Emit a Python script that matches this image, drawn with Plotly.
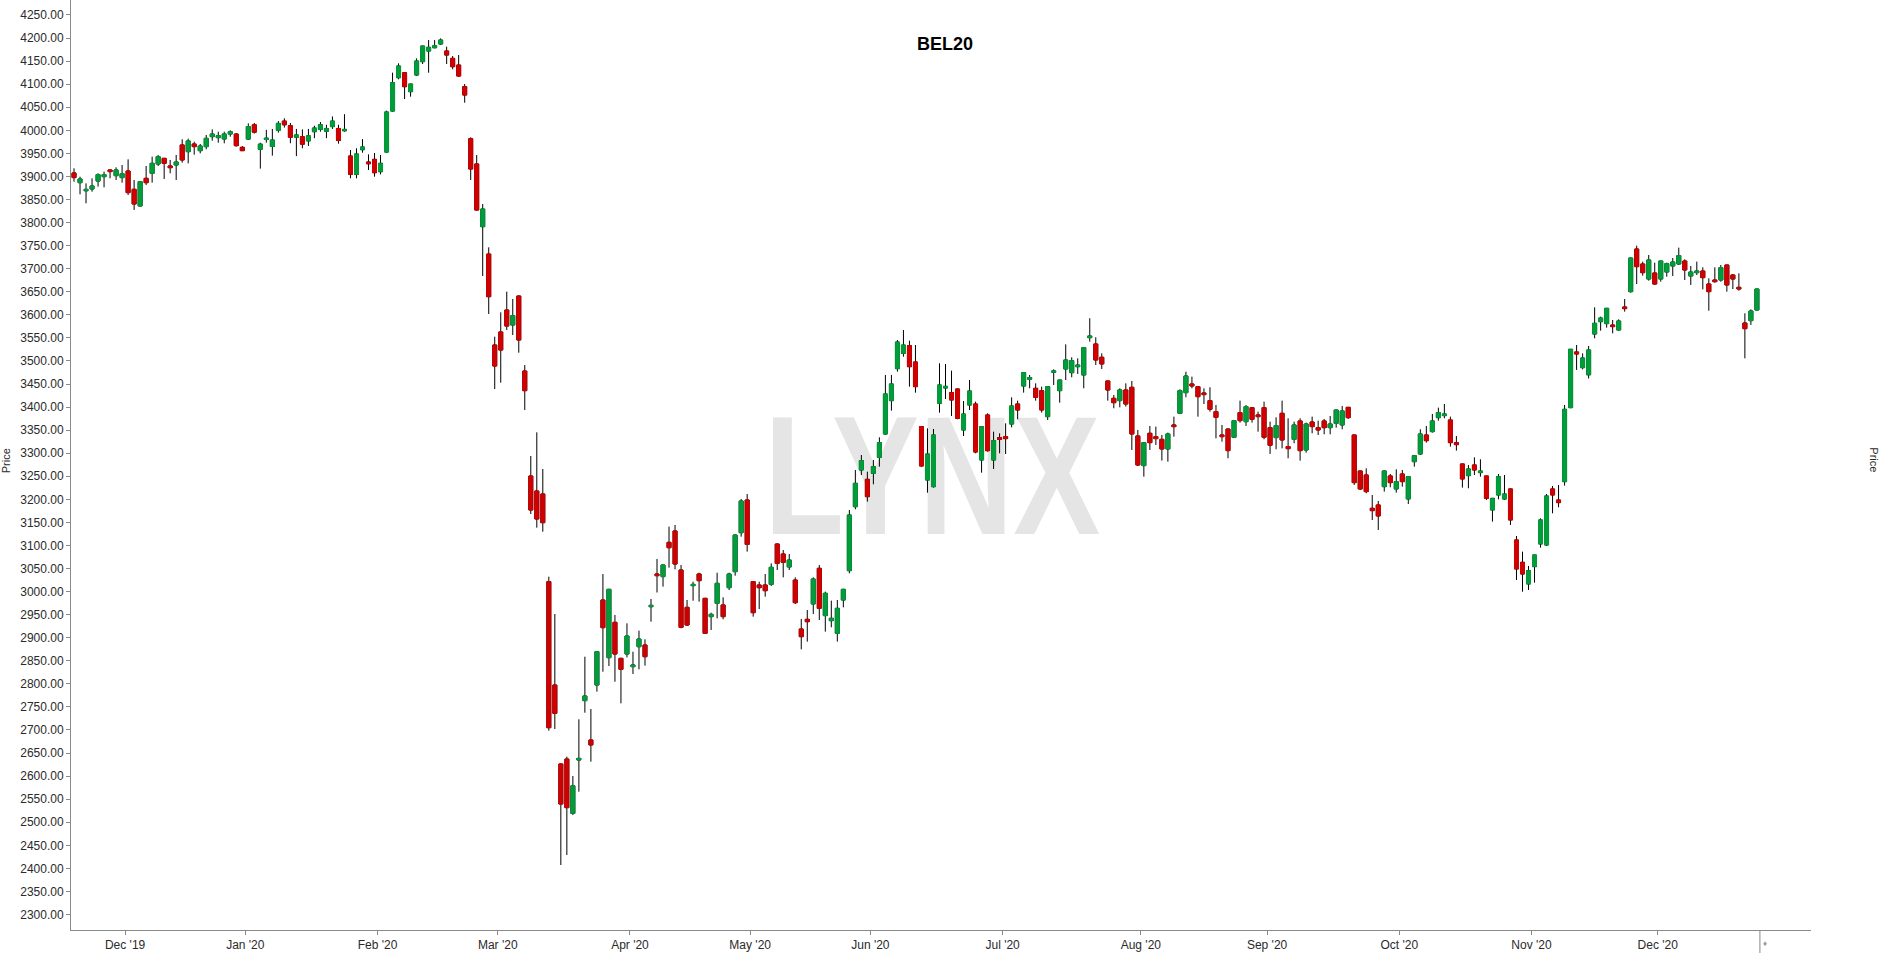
import pandas as pd
import plotly.graph_objects as go

# ---- data: BEL20 daily candles, 19 Nov 2019 .. 23 Dec 2020 (Euronext Brussels sessions) ----
holidays = ["2019-12-25", "2019-12-26", "2020-01-01", "2020-04-10", "2020-04-13", "2020-05-01"]
dates = [d for d in pd.bdate_range("2019-11-19", "2020-12-23") if d.strftime("%Y-%m-%d") not in holidays]

open_ = [3907.5, 3886.5, 3869.0, 3872.8, 3890.0, 3899.5, 3914.0, 3901.7, 3897.4, 3911.8,
         3872.1, 3836.0, 3895.9, 3906.8, 3927.0, 3939.3, 3922.7, 3924.8, 3968.2, 3953.7,
         3970.3, 3955.9, 3964.6, 3986.2, 3984.1, 3981.2, 3992.0, 3992.0, 3963.1, 3981.0,
         4012.0, 3959.0, 3980.0, 3965.0, 4000.0, 4020.0, 4010.0, 3985.0, 3986.0, 3977.0,
         3997.0, 4002.0, 3998.0, 4008.0, 4004.0, 3999.0, 3944.3, 3904.6, 3958.0, 3931.3,
         3937.0, 3910.3, 3952.9, 4041.8, 4114.1, 4124.9, 4083.8, 4119.9, 4148.8, 4171.9,
         4179.0, 4187.1, 4171.9, 4156.0, 4141.5, 4094.6, 3981.8, 3927.0, 3791.1, 3731.8,
         3534.6, 3562.8, 3610.4, 3577.9, 3640.8, 3478.2, 3250.6, 3218.1, 3211.6, 3021.5,
         2797.5, 2626.3, 2637.1, 2519.3, 2634.9, 2763.6, 2678.3, 2797.5, 2981.8, 2856.8,
         2933.4, 2855.3, 2864.7, 2837.3, 2880.6, 2884.2, 2967.3, 3038.1, 3032.4, 3106.8,
         3131.4, 3046.8, 2965.9, 3012.9, 3038.1, 2985.4, 2945.7, 2974.6, 2971.0, 3008.5,
         3043.2, 3127.7, 3198.6, 3021.5, 3014.3, 3014.3, 3015.7, 3103.2, 3081.5, 3053.4,
         3025.1, 2918.9, 2939.9, 2973.2, 3050.5, 2947.9, 2937.0, 2909.6, 2981.8, 3045.4,
         3184.1, 3263.6, 3243.4, 3256.4, 3291.0, 3341.7, 3414.0, 3483.3, 3516.5, 3533.2,
         3497.8, 3357.6, 3241.9, 3227.5, 3408.2, 3441.4, 3431.3, 3439.2, 3350.3, 3404.5,
         3406.7, 3285.3, 3382.9, 3285.3, 3333.7, 3335.9, 3363.3, 3406.7, 3445.7, 3460.2,
         3440.7, 3435.6, 3379.3, 3475.6, 3435.6, 3482.6, 3474.6, 3487.6, 3469.6, 3550.5,
         3536.8, 3508.0, 3456.6, 3419.0, 3414.0, 3437.1, 3442.9, 3337.4, 3273.1, 3343.2,
         3335.9, 3330.1, 3309.2, 3361.2, 3386.5, 3431.3, 3450.1, 3444.3, 3430.6, 3414.0,
         3390.1, 3339.5, 3352.5, 3334.5, 3388.0, 3368.4, 3398.8, 3382.9, 3398.8, 3355.4,
         3333.8, 3386.5, 3314.3, 3330.1, 3369.9, 3307.0, 3367.7, 3355.4, 3369.9, 3355.4,
         3364.8, 3361.2, 3399.5, 3339.5, 3261.5, 3252.8, 3180.6, 3187.8, 3227.5, 3250.7,
         3222.5, 3255.0, 3200.8, 3281.7, 3298.4, 3339.5, 3346.8, 3377.1, 3381.5, 3372.1,
         3322.9, 3276.7, 3251.4, 3274.5, 3257.9, 3250.7, 3177.0, 3209.5, 3200.8, 3222.5,
         3111.9, 3063.5, 3016.6, 3054.1, 3103.3, 3101.1, 3222.5, 3198.6, 3238.4, 3398.8,
         3519.5, 3485.5, 3470.0, 3558.4, 3585.2, 3580.9, 3577.9, 3567.1, 3617.0, 3650.2,
         3742.7, 3710.2, 3677.7, 3690.7, 3677.7, 3692.8, 3705.9, 3710.2, 3716.7, 3684.2,
         3691.4, 3695.0, 3666.8, 3675.5, 3675.5, 3708.0, 3686.3, 3659.6, 3582.3, 3587.4,
         3610.5]

high = [3917.6, 3899.5, 3885.0, 3895.9, 3906.8, 3910.4, 3915.0, 3919.8, 3924.8, 3937.1,
        3892.3, 3889.5, 3922.7, 3942.9, 3946.5, 3940.0, 3935.7, 3946.5, 3980.5, 3981.9,
        3975.4, 3970.3, 3989.9, 4002.0, 3997.0, 3997.0, 4000.0, 3993.5, 3966.0, 4015.0,
        4016.0, 3973.2, 4001.0, 4003.0, 4020.0, 4026.0, 4016.0, 4003.0, 4002.0, 4003.0,
        4010.0, 4018.0, 4012.0, 4030.0, 4012.0, 4035.0, 3957.3, 3961.0, 3981.0, 3947.9,
        3950.8, 3946.4, 4042.6, 4125.0, 4145.2, 4126.0, 4101.0, 4156.0, 4183.5, 4195.7,
        4195.7, 4199.4, 4181.3, 4161.1, 4163.2, 4100.4, 3984.8, 3946.4, 3840.2, 3746.3,
        3552.6, 3605.4, 3650.2, 3634.3, 3642.0, 3491.2, 3294.0, 3345.3, 3265.8, 3032.4,
        2951.4, 2627.5, 2642.2, 2600.3, 2723.1, 2858.9, 2745.5, 2871.0, 3038.1, 3006.0,
        2949.3, 2856.5, 2931.2, 2869.7, 2915.3, 2896.5, 2984.0, 3070.7, 3059.0, 3140.8,
        3144.4, 3057.7, 2981.8, 3021.5, 3041.0, 2986.5, 2954.3, 3041.0, 2987.6, 3041.0,
        3124.0, 3200.7, 3211.6, 3022.5, 3021.5, 3038.1, 3061.3, 3104.5, 3090.2, 3081.5,
        3030.9, 2940.6, 2960.1, 3030.9, 3057.7, 2999.9, 2980.4, 2981.8, 3006.0, 3176.9,
        3263.6, 3296.1, 3260.0, 3285.3, 3334.5, 3469.6, 3469.6, 3545.4, 3567.1, 3544.0,
        3534.6, 3359.0, 3353.9, 3352.5, 3494.9, 3493.4, 3479.0, 3440.5, 3413.2, 3458.7,
        3411.8, 3358.5, 3386.5, 3346.7, 3343.1, 3364.8, 3421.1, 3413.9, 3475.5, 3469.6,
        3451.5, 3444.3, 3445.0, 3481.9, 3459.5, 3536.0, 3507.9, 3505.7, 3530.0, 3592.5,
        3551.3, 3516.6, 3457.5, 3426.3, 3440.7, 3451.5, 3456.6, 3350.4, 3323.5, 3359.0,
        3357.6, 3339.5, 3344.6, 3379.3, 3438.5, 3476.8, 3466.0, 3445.0, 3440.7, 3442.9,
        3404.6, 3361.2, 3353.5, 3372.1, 3414.0, 3404.6, 3399.5, 3390.1, 3411.8, 3368.4,
        3377.8, 3414.0, 3375.6, 3368.4, 3375.6, 3366.3, 3379.3, 3370.6, 3374.2, 3380.7,
        3394.5, 3402.4, 3400.2, 3340.5, 3262.5, 3267.3, 3209.5, 3196.5, 3262.5, 3255.0,
        3265.1, 3263.7, 3250.0, 3296.2, 3351.9, 3359.0, 3385.1, 3398.8, 3406.7, 3379.3,
        3337.4, 3277.5, 3274.5, 3291.1, 3286.8, 3251.5, 3203.0, 3255.0, 3252.8, 3224.0,
        3120.6, 3086.6, 3055.6, 3080.0, 3158.9, 3211.6, 3229.0, 3231.1, 3404.6, 3526.0,
        3534.6, 3516.5, 3532.4, 3616.3, 3596.0, 3615.0, 3588.8, 3590.2, 3634.3, 3724.0,
        3749.9, 3715.3, 3729.7, 3713.1, 3717.5, 3713.1, 3723.2, 3745.6, 3720.3, 3705.9,
        3715.3, 3703.0, 3679.1, 3703.0, 3708.0, 3708.8, 3688.5, 3690.0, 3603.3, 3611.9,
        3656.8]

low = [3888.7, 3861.2, 3841.7, 3867.0, 3877.9, 3876.4, 3896.0, 3892.3, 3886.5, 3859.8,
       3827.3, 3834.5, 3881.5, 3886.5, 3922.7, 3894.5, 3906.8, 3892.3, 3929.9, 3928.4,
       3947.2, 3950.1, 3958.8, 3977.6, 3973.2, 3971.8, 3986.2, 3964.6, 3955.0, 3979.0,
       3993.0, 3917.0, 3973.2, 3945.0, 3995.0, 4006.0, 3972.0, 3944.0, 3961.0, 3966.0,
       3983.0, 3997.0, 3983.0, 4003.0, 3971.0, 3997.0, 3895.9, 3895.9, 3951.5, 3913.9,
       3899.5, 3904.5, 3951.5, 4040.4, 4110.5, 4067.8, 4072.9, 4117.7, 4143.7, 4124.9,
       4177.7, 4184.9, 4143.7, 4132.2, 4116.3, 4059.9, 3892.3, 3826.0, 3684.1, 3601.8,
       3439.2, 3452.9, 3567.1, 3556.2, 3517.9, 3393.7, 3168.2, 3138.6, 3129.9, 2698.5,
       2702.1, 2407.3, 2429.0, 2515.7, 2566.3, 2737.5, 2631.3, 2783.1, 2826.4, 2838.7,
       2804.7, 2757.8, 2857.5, 2821.4, 2831.5, 2839.4, 2934.8, 2998.0, 3010.7, 3051.9,
       3048.3, 2920.4, 2925.4, 2980.3, 2978.2, 2908.1, 2916.7, 2942.0, 2939.9, 3003.5,
       3034.5, 3119.1, 3086.6, 2945.7, 2962.1, 2989.0, 3012.1, 3046.8, 3030.9, 3046.8,
       2973.1, 2874.9, 2891.5, 2951.5, 2938.4, 2913.2, 2922.6, 2891.5, 2965.9, 3039.6,
       3178.4, 3252.8, 3195.0, 3232.6, 3270.9, 3339.5, 3392.3, 3476.8, 3509.3, 3444.3,
       3431.3, 3270.9, 3214.5, 3225.3, 3387.9, 3417.5, 3380.7, 3373.6, 3337.3, 3393.7,
       3299.8, 3257.8, 3303.4, 3265.8, 3299.8, 3298.3, 3356.1, 3373.5, 3431.3, 3440.7,
       3413.9, 3387.9, 3372.0, 3447.9, 3409.6, 3458.7, 3464.5, 3471.7, 3440.7, 3541.9,
       3491.3, 3482.6, 3414.0, 3397.4, 3399.5, 3401.0, 3307.0, 3272.3, 3249.2, 3307.0,
       3317.9, 3284.0, 3281.7, 3335.9, 3385.1, 3421.2, 3440.7, 3379.3, 3406.7, 3390.1,
       3332.3, 3325.1, 3289.0, 3334.0, 3366.3, 3359.1, 3366.3, 3346.8, 3330.1, 3298.4,
       3308.5, 3310.6, 3289.0, 3321.5, 3283.9, 3301.2, 3343.2, 3339.5, 3341.0, 3341.0,
       3355.4, 3351.9, 3374.2, 3231.2, 3220.3, 3213.1, 3155.3, 3133.6, 3216.7, 3226.1,
       3214.5, 3227.5, 3190.0, 3270.9, 3296.2, 3322.9, 3344.6, 3370.6, 3375.6, 3314.3,
       3305.6, 3225.4, 3224.0, 3252.8, 3249.2, 3198.6, 3151.7, 3200.1, 3198.6, 3144.5,
       3025.2, 2999.9, 3003.5, 3019.4, 3095.3, 3098.9, 3169.7, 3182.8, 3229.7, 3397.4,
       3480.5, 3481.8, 3462.0, 3549.1, 3565.7, 3572.2, 3559.9, 3565.7, 3606.9, 3648.0,
       3666.8, 3684.9, 3674.1, 3664.7, 3671.9, 3682.7, 3684.2, 3708.0, 3675.5, 3664.7,
       3686.3, 3655.3, 3609.0, 3669.7, 3671.9, 3650.2, 3656.0, 3652.4, 3505.7, 3578.0,
       3609.0]

close = [3897.4, 3894.5, 3872.0, 3879.3, 3903.9, 3903.9, 3910.4, 3914.0, 3906.0, 3864.9,
         3840.3, 3888.7, 3886.5, 3928.4, 3942.9, 3928.4, 3919.0, 3931.3, 3935.7, 3976.9,
         3964.6, 3966.0, 3982.6, 3992.0, 3988.4, 3992.0, 3997.0, 3966.7, 3955.9, 4008.0,
         3996.0, 3970.0, 3983.0, 3979.0, 4015.0, 4012.0, 3985.0, 3990.0, 3970.0, 3988.0,
         4005.0, 4012.0, 4004.0, 4020.0, 3978.0, 4002.0, 3904.6, 3948.7, 3963.9, 3927.5,
         3908.1, 3928.4, 4039.7, 4103.3, 4139.4, 4094.6, 4100.4, 4150.2, 4182.7, 4179.9,
         4183.4, 4195.7, 4163.2, 4137.9, 4117.7, 4076.5, 3916.1, 3827.2, 3829.4, 3639.3,
         3489.0, 3523.7, 3575.7, 3598.1, 3545.4, 3435.6, 3176.9, 3157.4, 3149.4, 2705.0,
         2736.1, 2539.5, 2531.6, 2578.9, 2638.5, 2773.7, 2667.5, 2869.7, 2921.8, 3004.9,
         2864.7, 2831.5, 2903.7, 2841.0, 2897.2, 2858.9, 2970.2, 3034.5, 3057.7, 3095.2,
         3059.8, 2922.5, 2927.6, 3015.7, 3023.7, 2909.5, 2950.7, 3017.9, 2945.7, 3038.1,
         3122.7, 3196.4, 3102.4, 2954.3, 3008.5, 3002.0, 3052.6, 3061.3, 3063.4, 3068.5,
         2976.0, 2902.3, 2934.8, 3027.3, 2963.8, 2996.3, 2942.1, 2963.7, 3004.9, 3166.1,
         3234.7, 3283.9, 3205.8, 3270.9, 3322.9, 3428.4, 3450.1, 3541.1, 3534.6, 3487.6,
         3444.3, 3272.3, 3298.3, 3339.5, 3447.9, 3445.0, 3415.4, 3375.6, 3385.0, 3434.9,
         3302.7, 3357.6, 3305.5, 3327.2, 3330.1, 3331.6, 3402.4, 3393.7, 3474.6, 3463.8,
         3421.1, 3393.7, 3444.3, 3478.2, 3458.7, 3502.1, 3500.6, 3491.2, 3528.8, 3554.2,
         3502.1, 3493.5, 3437.1, 3409.6, 3437.1, 3406.7, 3341.7, 3274.5, 3322.9, 3322.9,
         3331.6, 3309.2, 3341.7, 3357.6, 3435.6, 3467.4, 3445.8, 3422.6, 3427.0, 3395.2,
         3377.8, 3335.9, 3305.6, 3370.6, 3370.6, 3401.0, 3373.5, 3379.3, 3334.5, 3317.2,
         3359.8, 3328.7, 3309.9, 3361.2, 3305.6, 3363.4, 3357.6, 3350.4, 3355.4, 3363.4,
         3393.7, 3391.6, 3377.1, 3236.2, 3222.5, 3216.7, 3175.5, 3164.0, 3261.5, 3236.2,
         3238.4, 3238.4, 3249.2, 3294.7, 3341.7, 3327.2, 3369.9, 3388.0, 3385.1, 3322.9,
         3318.6, 3244.2, 3265.8, 3263.7, 3261.5, 3202.2, 3202.2, 3249.2, 3211.6, 3155.3,
         3049.1, 3038.2, 3045.4, 3079.4, 3155.3, 3207.3, 3209.5, 3192.9, 3395.2, 3525.3,
         3515.1, 3506.4, 3523.8, 3581.6, 3593.1, 3614.1, 3574.4, 3586.6, 3613.4, 3723.2,
         3704.4, 3691.4, 3718.9, 3666.8, 3716.7, 3710.9, 3714.5, 3728.3, 3697.2, 3692.8,
         3695.0, 3680.6, 3650.2, 3671.9, 3702.2, 3664.7, 3677.7, 3656.0, 3570.0, 3608.3,
         3656.0]

price_ticks = list(range(2300, 4251, 50))
title_text = "BEL20"
watermark = "LYNX"

# ---- derived ----
n = len(dates)
idx = list(range(n))
date_txt = [d.strftime("%d %b %Y") for d in dates]
body_hi = [max(o, c) for o, c in zip(open_, close)]
body_lo = [min(o, c) for o, c in zip(open_, close)]

month_pos, month_lbl = [], []
prev = None
for i, d in enumerate(dates):
    key = (d.year, d.month)
    if key != prev:
        if prev is not None:
            month_pos.append(i - 0.5)
            month_lbl.append(d.strftime("%b '%y"))
        prev = key
end_pos = n - 0.5  # end-of-data marker on the time axis

GREEN = "#009d3a"
RED = "#d10000"
AXIS = "#8a8a8a"
TXT = "#2a2a2a"
FONT = "Liberation Sans, Arial, sans-serif"

fig = go.Figure()
# wicks (black)
fig.add_trace(go.Candlestick(
    x=idx, open=open_, high=high, low=low, close=close, text=date_txt,
    increasing=dict(line=dict(color="#000000", width=1), fillcolor="#000000"),
    decreasing=dict(line=dict(color="#000000", width=1), fillcolor="#000000"),
    whiskerwidth=0, showlegend=False, hoverinfo="skip"))
# coloured bodies on top
fig.add_trace(go.Candlestick(
    x=idx, open=open_, high=body_hi, low=body_lo, close=close, text=date_txt,
    increasing=dict(line=dict(color=GREEN, width=1), fillcolor=GREEN),
    decreasing=dict(line=dict(color=RED, width=1), fillcolor=RED),
    whiskerwidth=0, showlegend=False, name="BEL20"))

yrange = [2266.4, 4282.5]
axis_common = dict(showline=True, linecolor=AXIS, linewidth=1, ticks="outside",
                   ticklen=4, tickwidth=1, tickcolor=AXIS, showgrid=False, zeroline=False,
                   tickfont=dict(family=FONT, size=12, color=TXT))

fig.update_layout(
    width=1884, height=953, autosize=False,
    margin=dict(l=71, r=73, t=0, b=23, pad=0),
    paper_bgcolor="white", plot_bgcolor="white",
    boxgap=0.3, boxgroupgap=0.05,
    xaxis=dict(range=[-0.5, 289.0], tickmode="array", tickvals=month_pos, ticktext=month_lbl,
               rangeslider=dict(visible=False), **axis_common),
    yaxis=dict(range=yrange, tickmode="array", tickvals=price_ticks,
               ticktext=[f"{v:.2f}" for v in price_ticks], side="left", **axis_common),
    yaxis2=dict(range=yrange, tickmode="array", tickvals=price_ticks,
                ticktext=[f"{v:.2f}" for v in price_ticks], side="right", overlaying="y",
                anchor="x", **axis_common),
    shapes=[
        dict(type="rect", xref="paper", yref="paper", x0=0.30, x1=0.69, y0=0.395, y1=0.615,
             line=dict(width=0), fillcolor="rgba(0,0,0,0)", layer="below",
             label=dict(text=watermark, textposition="middle center",
                        font=dict(family=FONT, size=168, color="#e5e5e5", weight="bold"))),
        dict(type="line", xref="x", yref="paper", x0=end_pos, x1=end_pos, y0=0, y1=-0.025,
             line=dict(color=AXIS, width=1)),
    ],
    annotations=[
        dict(text="<b>" + title_text + "</b>", x=0.5023, y=0.9527, xref="paper", yref="paper",
             showarrow=False, xanchor="center", yanchor="middle",
             font=dict(family=FONT, size=18, color="#000000")),
        dict(text="Price", x=-0.0374, y=0.505, xref="paper", yref="paper", showarrow=False,
             textangle=-90, xanchor="center", yanchor="middle",
             font=dict(family=FONT, size=11, color=TXT)),
        dict(text="Price", x=1.0362, y=0.505, xref="paper", yref="paper", showarrow=False,
             textangle=90, xanchor="center", yanchor="middle",
             font=dict(family=FONT, size=11, color=TXT)),
        dict(text="\u2666", x=end_pos + 0.9, y=-0.014, xref="x", yref="paper", showarrow=False,
             xanchor="center", yanchor="middle", font=dict(family=FONT, size=8, color="#9a9a9a")),
    ],
)

post_js = """
document.body.style.margin='0';
document.body.style.overflow='hidden';
var gd = document.getElementsByClassName('plotly-graph-div')[0];
gd.querySelectorAll('text').forEach(function(t){
  if (t.textContent === 'LYNX') {
    t.setAttribute('textLength', '336');
    t.setAttribute('lengthAdjust', 'spacingAndGlyphs');
  }
});
"""

fig.write_html("out.html", config={"displayModeBar": False}, post_script=post_js)
